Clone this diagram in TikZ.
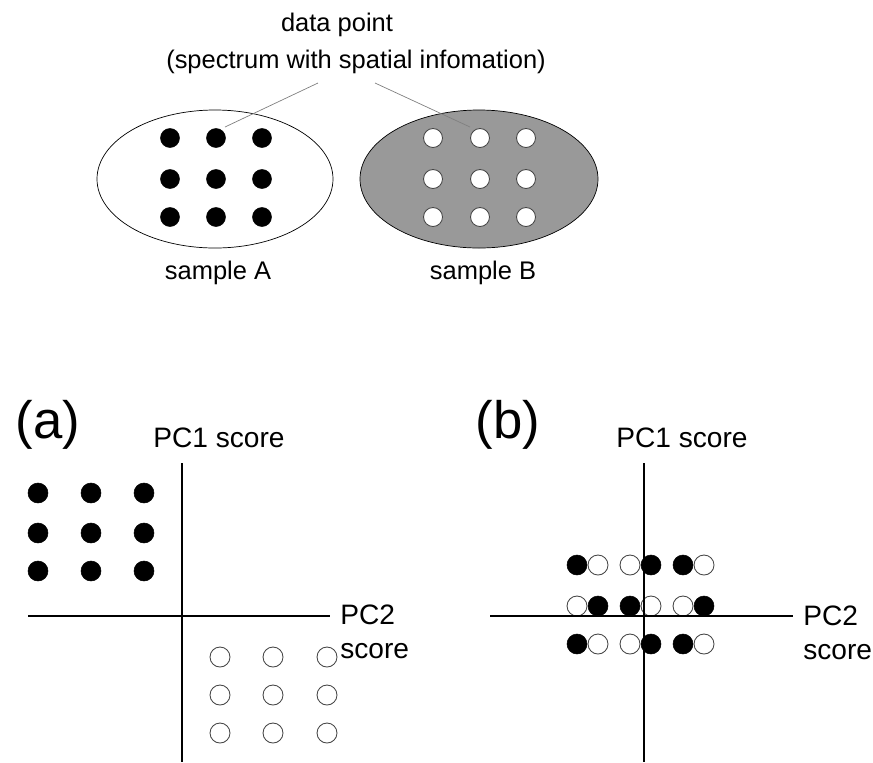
\documentclass[tikz,border=0pt]{standalone}
\usepackage{fontspec}
\setmainfont{Liberation Sans}
\usetikzlibrary{arrows.meta,calc,positioning}
\definecolor{sampgray}{RGB}{153,153,153}
\definecolor{rimgray}{RGB}{70,70,70}

\begin{document}
\begin{tikzpicture}[x=0.02cm,y=-0.02cm,
  dotb/.style={circle,fill=black,draw=black,line width=0.3pt,minimum size=0.4cm,inner sep=0pt},
  doto/.style={circle,fill=white,draw=rimgray,line width=0.5pt,minimum size=0.4cm,inner sep=0pt},
  axis/.style={black,line width=0.8pt},
  leader/.style={gray,line width=0.4pt},
  txt/.style={font=\fontsize{14.5}{17}\selectfont,inner sep=0pt},
  pclbl/.style={font=\fontsize{16}{19.3}\selectfont,inner sep=0pt,align=left},
  tag/.style={font=\fontsize{30}{36}\selectfont,inner sep=0pt}]
\useasboundingbox (0,0) rectangle (873,762);
% ==========================================
% the two samples
\node (dp1) at (337,25) [txt] {data point};
\node (dp2) at (356,62) [txt] {(spectrum with spatial infomation)};
%
\draw[black,line width=0.4pt,fill=white] (215,179) ellipse [x radius=118,y radius=69];
\draw[black,line width=0.4pt,fill=sampgray] (479,179) ellipse [x radius=119,y radius=69];
%
\foreach \i/\x in {1/170,2/216,3/262}
  \foreach \j/\y in {1/138,2/179,3/217}
    \node[dotb,minimum size=0.38cm] (A\i\j) at (\x,\y) {};
\foreach \i/\x in {1/433,2/480,3/526}
  \foreach \j/\y in {1/138,2/179,3/217}
    \node[doto,minimum size=0.38cm] (B\i\j) at (\x,\y) {};
%
\coordinate (lA) at (318,83);
\coordinate (eA) at (225,127);
\coordinate (lB) at (375,83);
\coordinate (eB) at (470,127);
\draw[leader] (lA) -- (eA);
\draw[leader] (lB) -- (eB);
%
\node (sA) at (218,273) [txt] {sample A};
\node (sB) at (483,273) [txt] {sample B};
% ==========================================
% (a) separated scores
\node (ta) at (48,425) [tag] {(a)};
\node (pc1a) at (219,438) [pclbl] {PC1 score};
%
\foreach \i/\x in {1/38,2/91,3/144}
  \foreach \j/\y in {1/493,2/533,3/571}
    \node[dotb] (a\i\j) at (\x,\y) {};
\foreach \i/\x in {1/220,2/273,3/327}
  \foreach \j/\y in {1/657,2/695,3/733}
    \node[doto] (o\i\j) at (\x,\y) {};
%
\coordinate (va1) at (182,463);
\coordinate (va2) at (182,762);
\coordinate (ha1) at (28,616);
\coordinate (ha2) at (330,616);
\draw[axis] (va1) -- (va2);
\draw[axis] (ha1) -- (ha2);
\node (pc2a) at (340,632) [pclbl,anchor=west] {PC2\\score};
% ==========================================
% (b) mixed scores
\node (tb) at (508,425) [tag] {(b)};
\node (pc1b) at (682,438) [pclbl] {PC1 score};
%
\foreach \r/\y in {1/565,3/644} {
  \foreach \k/\x in {1/577,4/651,5/683}
    \node[dotb] (b\r\k) at (\x,\y) {};
  \foreach \k/\x in {2/598,3/630,6/704}
    \node[doto] (b\r\k) at (\x,\y) {};
}
\foreach \k/\x in {2/598,3/630,6/704}
  \node[dotb] (b2\k) at (\x,606) {};
\foreach \k/\x in {1/577,4/651,5/683}
  \node[doto] (b2\k) at (\x,606) {};
%
\coordinate (vb1) at (644,463);
\coordinate (vb2) at (644,762);
\coordinate (hb1) at (490,616);
\coordinate (hb2) at (793,616);
\draw[axis] (vb1) -- (vb2);
\draw[axis] (hb1) -- (hb2);
\node (pc2b) at (803,633) [pclbl,anchor=west] {PC2\\score};
% ==========================================
\end{tikzpicture}
\end{document}
